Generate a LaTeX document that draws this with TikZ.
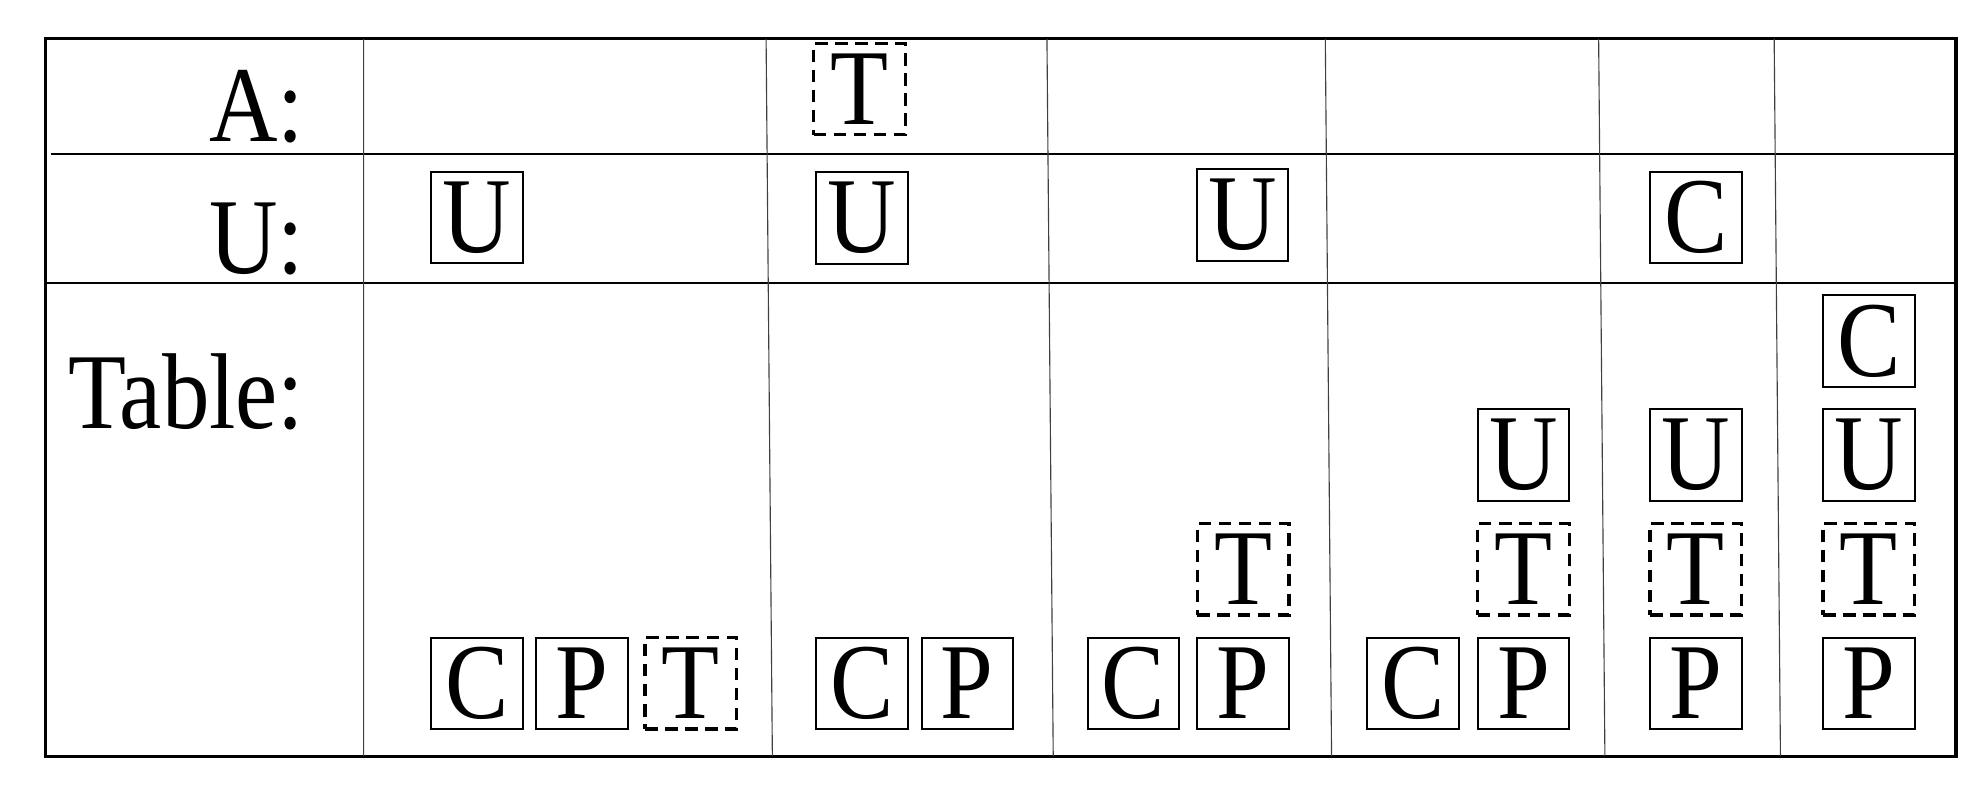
\documentclass[tikz,border=0pt]{standalone}
\usepackage{fontspec}
\setmainfont[FakeStretch=0.88]{Liberation Serif}
\usetikzlibrary{positioning}
\tikzset{
    block/.style = {rectangle,
                    fill=white,
                    draw=black,
                    text=black,
                    line width=0.8pt,
                    inner sep=0pt,
                    minimum width=36.5pt,
                    minimum height=36.5pt},
    held/.style  = {block,
                    dash pattern=on 5pt off 3pt,
                    line width=1.3pt},
    lbl/.style   = {anchor=base east,
                    inner sep=0pt},
    rule/.style  = {line width=0.45pt,
                    draw=black!75},
    node distance=45.5pt}

\begin{document}
\begin{tikzpicture}[x=0.5pt,y=0.5pt,font=\fontsize{43}{48}\selectfont]
                \useasboundingbox (0,0) rectangle (1568,642);
                % frame and rows
                \draw [line width=1.2pt] (36,39) rectangle (1560,611);
                \draw [line width=0.7pt] (41,519) -- (1560,519)
                                         (36,416) -- (1560,416);
                % columns
                \draw [rule] (290,611) -- (290,39)
                             (611,611) -- (616,39)
                             (835,611) -- (840,39)
                             (1057,611) -- (1062,39)
                             (1275,611) -- (1280,39)
                             (1415,611) -- (1420,39);
                % row labels
                \node[lbl]   (lA) at (243,529)        {A:};
                \node[lbl]   (lU) at (243,424)        {U:};
                \node[lbl]   (lT) at (243,300)        {Table:};
                % column 1
                \node[block] (u1U) at (380.5,468.5)   {U};
                \node[block] (t1C) at (380.5,97)      {C};
                \node[block] (t1P) at (464,97)        {P};
                \node[held]  (t1T) at (551,97)        {T};
                % column 2
                \node[held]  (a2T) at (685.5,571)     {T};
                \node[block] (u2U) at (687.5,468)     {U};
                \node[block] (t2C) at (687.5,97)      {C};
                \node[block] (t2P) at (771.5,97)      {P};
                % column 3
                \node[block] (u3U) at (991,470.5)     {U};
                \node[block] (t3C) at (904,97)        {C};
                \node[block] (t3P) at (991.5,97)      {P};
                \node[held]  (t3T) [above of=t3P]     {T};
                % column 4
                \node[block] (t4C) at (1127,97)       {C};
                \node[block] (t4P) at (1215,97)       {P};
                \node[held]  (t4T) [above of=t4P]     {T};
                \node[block] (t4U) [above of=t4T]     {U};
                % column 5
                \node[block] (u5C) at (1352.5,468.5)  {C};
                \node[block] (t5P) at (1352.5,97)     {P};
                \node[held]  (t5T) [above of=t5P]     {T};
                \node[block] (t5U) [above of=t5T]     {U};
                % column 6
                \node[block] (t6P) at (1490.5,97)     {P};
                \node[held]  (t6T) [above of=t6P]     {T};
                \node[block] (t6U) [above of=t6T]     {U};
                \node[block] (t6C) [above of=t6U]     {C};
        \end{tikzpicture}
\end{document}
